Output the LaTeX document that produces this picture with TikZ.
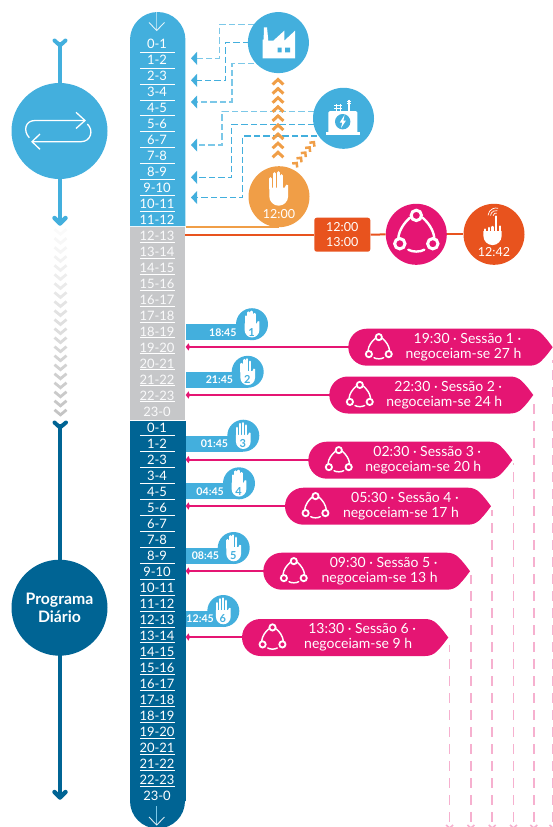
\documentclass[tikz,border=0pt]{standalone}
\usepackage{fontspec}
\setmainfont{Lato}
\usetikzlibrary{arrows.meta,calc}
\definecolor{sky}{HTML}{43AFDD}
\definecolor{skyl}{HTML}{7CC8E8}
\definecolor{navy}{HTML}{006494}
\definecolor{greyb}{HTML}{C6C7C9}
\definecolor{mag}{HTML}{E51573}
\definecolor{magl}{HTML}{F6B0CF}
\definecolor{orng}{HTML}{F09E47}
\definecolor{rust}{HTML}{E8531E}
\tikzset{
  hourtxt/.style={text=white,font=\fontsize{13}{13}\selectfont,inner sep=0pt,anchor=center},
  hourline/.style={draw=white,line width=0.8pt},
  bluedash/.style={draw=sky,line width=1.1pt,dash pattern=on 6.5pt off 3pt},
  bluetip/.style={fill=sky,draw=none},
  magdash/.style={draw=magl,line width=1.5pt,dash pattern=on 10pt off 7pt},
  magline/.style={draw=mag,line width=2pt},
  sessbox/.style={fill=mag,draw=none},
  sesstxt/.style={text=white,font=\fontsize{14}{14.8}\selectfont,align=center,inner sep=0pt},
  tagtxt/.style={text=white,font=\fontsize{10.6}{10}\bfseries\selectfont,inner sep=0pt},
  bigcirc/.style={circle,minimum size=#1,inner sep=0pt,draw=none},
  vline/.style={line width=4pt},
}
\newcommand{\chevup}[3]{\draw[#3,line width=3pt,line join=miter] (#1-5.4,#2+3) -- (#1,#2-2) -- (#1+5.4,#2+3);}
% network icon: centre x, y, scale s, colour
\newcommand{\netico}[4]{%
 \begin{scope}[shift={(#1,#2)},scale=#3]
  \draw[#4,line width=#3*2.4pt,line cap=round] (-6.3,-17) .. controls (-12,-12) and (-17,-5) .. (-18,3);
  \draw[#4,line width=#3*2.4pt,line cap=round] (6.3,-17) .. controls (12,-12) and (17,-5) .. (18,3);
  \draw[#4,line width=#3*2.4pt,line cap=round] (-8,15) .. controls (-4,17.5) and (4,17.5) .. (8,15);
  \draw[#4,line width=#3*3pt] (0,-19.3) circle[radius=5.2];
  \draw[#4,line width=#3*3pt] (-16.5,9) circle[radius=5.2];
  \draw[#4,line width=#3*3pt] (16.5,9) circle[radius=5.2];
 \end{scope}}
% hand icon: centre x, y, scale s
\newcommand{\handico}[3]{%
 \begin{scope}[shift={(#1,#2)},scale=#3]
  \fill[white] (-9.4,-1) -- (6,-1) -- (7.5,-4) -- (9.4,-3.5) -- (9.4,7.6) arc[start angle=0,end angle=180,radius=9.4] -- cycle;
  \draw[white,line width=#3*3pt,line cap=round] (-8,0) -- (-8,-10) (-4.3,0) -- (-4.3,-15) (-0.6,0) -- (-0.6,-16) (3.1,0) -- (3.1,-13);
 \end{scope}}
\newcommand{\sess}[6]{% left tip y time session hours
 \fill[sessbox] (#1+18.5,#3-18.5) -- (#2-23,#3-18.5) .. controls (#2-13,#3-18.5) and (#2-9,#3-11) .. (#2-4.5,#3-6) -- (#2,#3) -- (#2-4.5,#3+6) .. controls (#2-9,#3+11) and (#2-13,#3+18.5) .. (#2-23,#3+18.5) -- (#1+18.5,#3+18.5) arc[start angle=90,end angle=270,radius=18.5] -- cycle;
 \netico{#1+30.5}{#3+1.5}{0.6}{white}
 \node[sesstxt] (sess#5) at ({(#1+#2)/2+13},#3) {\hspace*{8pt}#4 · Sessão #5 ·\\negoceiam-se #6 h};
}
% tag: bar top, circle cx, time right x, time, number
\newcommand{\tagh}[5]{%
  \fill[sky] (186,#1) rectangle (#2,#1+16);
  \node[bigcirc=32pt,fill=sky] (hc#5) at (#2,#1) {};
  \node[tagtxt,anchor=east] (tt#5) at (#3,#1+8) {#4};
  \handico{#2}{#1}{0.78}
  \node[text=sky,font=\fontsize{11}{11}\bfseries\selectfont,inner sep=0] (hn#5) at (#2-0.5,#1+8) {#5};
}
\begin{document}
\begin{tikzpicture}[x=1pt,y=-1pt]
\useasboundingbox (0,0) rectangle (553,827);
% timeline column
\fill[sky] (130,226) -- (130,39.7) arc[start angle=180,end angle=360,radius=27.7] -- (185.4,226) -- cycle;
\fill[greyb] (130,226.8) rectangle (185.4,420);
\fill[navy] (130,421) -- (185.8,421) -- (185.8,801) -- (185,801) arc[start angle=0,end angle=180,radius=27.5] -- cycle;
\draw[draw=skyl!70!white,line width=0.8pt] (156.7,12) -- (156.7,30);
\draw[draw=white,line width=0.9pt,opacity=.85] (149,22.5) -- (156.7,30.5) -- (164.5,22.5);
\draw[draw=skyl,line width=0.8pt] (156.7,806) -- (156.7,825);
\draw[draw=white,line width=0.9pt,opacity=.85] (149,817) -- (156.7,825) -- (164.5,817);
% hours
\foreach \lab [count=\i from 0] in {0-1,1-2,2-3,3-4,4-5,5-6,6-7,7-8,8-9,9-10,10-11,11-12}{
  \node[hourtxt] (s\i) at (157,{44+\i*16}) {\lab};
  \ifnum\i<11 \draw[hourline] (140,{52.4+\i*15.85}) -- (175,{52.4+\i*15.85}); \fi
}
\foreach \lab [count=\i from 0] in {12-13,13-14,14-15,15-16,16-17,17-18,18-19,19-20,20-21,21-22,22-23,23-0}{
  \node[hourtxt,text=white!92!greyb] (g\i) at (157,{236+\i*16}) {\lab};
  \ifnum\i<11 \draw[hourline] (140,{242.4+\i*15.9}) -- (175,{242.4+\i*15.9}); \fi
}
\foreach \lab [count=\i from 0] in {0-1,1-2,2-3,3-4,4-5,5-6,6-7,7-8,8-9,9-10,10-11,11-12,12-13,13-14,14-15,15-16,16-17,17-18,18-19,19-20,20-21,21-22,22-23,23-0}{
  \node[hourtxt] (n\i) at (157,{428+\i*16}) {\lab};
  \ifnum\i<23 \draw[hourline] (140,{435.5+\i*15.95}) -- (175,{435.5+\i*15.95}); \fi
}
% left column
\draw[sky,vline] (60,42) -- (60,222);
\draw[sky,line width=4pt,line cap=round] (54.5,40.5) -- (60,45.5) -- (65.5,40.5);
\draw[sky,line width=4.5pt,line cap=round,line join=round] (54.5,218) -- (60,223.5) -- (65.5,218);
\node[bigcirc=96pt,fill=sky] (cyc) at (59.5,131) {};
\draw[white,line width=1.3pt] (85,120.5) -- (35,120.5) .. controls (25,120.5) and (23,131) .. (29.3,137.7);
\draw[white,line width=1.3pt] (76,112.3) -- (85,120.5) -- (76,128.5);
\draw[white,line width=1.3pt] (32,141.7) -- (81,141.7) .. controls (91,141.7) and (94,130) .. (87.3,124);
\draw[white,line width=1.3pt] (40,134) -- (32,141.7) -- (40,149.3);
% grey chevrons
\foreach \i in {0,...,20}{
  \pgfmathsetmacro{\shade}{min(23,2+\i*1.05)}
  \draw[black!\shade,line width=2.8pt] (54.5,{229.2+\i*9.03}) -- (60.5,{234.2+\i*9.03}) -- (66.5,{229.2+\i*9.03});
}
% navy line
\draw[navy,vline] (60,424) -- (60,796);
\draw[navy,line width=4pt,line cap=round] (54.5,422.5) -- (60,427.5) -- (66,422.5);
\draw[navy,line width=4.5pt,line cap=round,line join=round] (54.5,792) -- (60,797.5) -- (65.5,792);
\node[bigcirc=96pt,fill=navy,text=white,font=\fontsize{15.8}{18.7}\bfseries\selectfont,align=center] (prog) at (59.5,607.7) {Programa\\Diário};
% blue dashed connectors
\coordinate (ta1) at (191,58.3); \coordinate (ta2) at (191,80.3); \coordinate (ta3) at (191,102);
\coordinate (ta4) at (191,145); \coordinate (ta5) at (191,177.3); \coordinate (ta6) at (191,197.5);
\coordinate (fa1) at (254,24.3); \coordinate (fa2) at (249,42.3); \coordinate (fa3) at (254,63.3);
\coordinate (sa1) at (314,111.3); \coordinate (sa2) at (314,124.3); \coordinate (sa3) at (317,136);
\draw[bluedash,draw=skyl] (fa1) -- (219.3,24.3) -- (219.3,58.3) -- (197,58.3);
\draw[bluedash] (fa2) -- (225.3,42.3) -- (225.3,80.3) -- (197,80.3);
\draw[bluedash,draw=skyl] (fa3) -- (232,63.3) -- (232,102) -- (197,102);
\draw[bluedash,draw=skyl] (sa1) -- (222,111.3) -- (222,145) -- (197,145);
\draw[bluedash] (sa2) -- (231.7,124.3) -- (231.7,177.3) -- (197,177.3);
\draw[bluedash] (sa3) -- (242.7,136) -- (242.7,197.5) -- (197,197.5);
\foreach \c in {ta1,ta2,ta3,ta4,ta5,ta6}{ \fill[bluetip] (\c) ++(6,-6.5) -- ++(-6,6.5) -- ++(6,6.5) -- cycle; }
% factory circle
\node[bigcirc=61pt,fill=sky] (fact) at (278.4,42.6) {};
\fill[white] (262.7,58.3) -- (262.7,39.5) -- (263.6,39.5) -- (264,27.3) -- (267,27.3) -- (268.2,39.5) -- (268.2,40.7) -- (273.3,40.7) -- (284.3,30.7) -- (284.3,40.7) -- (295,30.7) -- (295,58.3) -- cycle;
\fill[sky] (277.7,47.7) rectangle (281.7,52.3) (285,47.7) rectangle (290,52.3);
% substation circle
\node[bigcirc=61pt,fill=sky] (subst) at (343.5,118.3) {};
\fill[white,rounded corners=1.5pt] (328.3,111) rectangle (357.3,134);
\fill[white] (326,132.3) rectangle (359.5,135);
\fill[sky] (342.7,121.7) circle[radius=7.7];
\fill[white] (344.5,115) -- (339.8,122.5) -- (342.3,122.5) -- (341,128) -- (346,120.5) -- (343.4,120.5) -- cycle;
\foreach \cx/\tp/\lw in {336/104/0.8,340.2/104/0.8,349/99.5/1.6}{
  \draw[white,line width=\lw pt] (\cx,\tp) -- (\cx,111);
  \draw[white,line width=0.9pt] (\cx-2,{\tp+1.5}) -- (\cx+2,{\tp+1.5}) (\cx-2,{\tp+4}) -- (\cx+2,{\tp+4});
}
% orange circle
\node[bigcirc=61pt,fill=orng] (stop) at (279,196.7) {};
\handico{278.7}{188.7}{1}
\node[text=white,font=\fontsize{12.5}{12}\selectfont,inner sep=0] (stoptime) at (279,214.3) {12:00};
% orange chevrons
\foreach \i in {0,...,8}{ \chevup{278}{81.5+\i*9.1}{orng} }
\foreach \i in {0,...,4}{
  \draw[orng,line width=2.5pt] ({296.7+\i*4.3-4.5},{163+\i*(-5.2)+0.5}) -- ({296.7+\i*4.3},{163+\i*(-5.2)}) -- ({296.7+\i*4.3+0.5},{163+\i*(-5.2)+4.5});
}
% orange / red lines
\coordinate (o1) at (185.5,0);
\coordinate (o2) at (185,0);
\node[fill=rust,rounded corners=2.5pt,text=white,font=\fontsize{12.5}{15}\selectfont,align=center,inner sep=0pt,minimum width=56pt,minimum height=34pt] (tb) at (342.3,234.7) {12:00\\13:00};
\node[bigcirc=61pt,fill=mag] (net) at (416.3,234.3) {};
\node[bigcirc=61pt,fill=rust] (hand2) at (494,234.3) {};
\draw[orng,line width=2pt] (o1 |- stop.south) -- (stop.south);
\draw[rust,line width=2pt] (o2 |- tb) -- (tb);
\draw[rust,line width=2pt] (tb) -- (net);
\draw[rust,line width=2pt] (net) -- (hand2);
\netico{416.3}{234.7}{1}{white}
% pressing hand
\fill[white] (483.4,231) -- (501.6,231) -- (501.6,236) arc[start angle=0,end angle=180,radius=9.1] -- cycle;
\draw[white,line width=2.4pt,line cap=round] (485,232) -- (485,229.5) (489,232) -- (489,228) (492.6,232) -- (492.6,227) (496,232) -- (496,216.5) (499.8,232) -- (499.8,226.5);
\foreach \r in {3,5.5,8}{ \draw[white,line width=0.7pt] (496,216) ++(185:\r) arc[start angle=185,end angle=285,radius=\r]; }
\node[text=white,font=\fontsize{12.5}{12}\selectfont,inner sep=0] (presstime) at (494,252.3) {12:42};
% magenta lines behind boxes
\foreach \yy/\rr/\nm in {346.9/360/a,395/340/b,459.6/320/c,506/296/d,571/275/e,637/255/f}{
  \coordinate (st\nm) at (\rr,\yy);
  \coordinate (en\nm) at (188,\yy);
  \draw[magline] (st\nm) -- (en\nm);
  \fill[mag] (185.7,\yy) -- (188.5,\yy-3.6) -- (190,\yy) -- (188.5,\yy+3.6) -- cycle;
}
% tags
\tagh{324.2}{252}{236.7}{18:45}{1}
\tagh{371.8}{247.7}{233.3}{21:45}{2}
\tagh{435.7}{243.3}{228.3}{01:45}{3}
\tagh{483.3}{239}{224}{04:45}{4}
\tagh{548}{233.7}{219.3}{08:45}{5}
\tagh{611}{223.3}{214}{12:45}{6}
% dashed pink drops
\foreach \xx/\yy in {553/360,533.8/403,513.5/463,492.2/510,470.9/575,449.6/645}{
  \draw[magdash] (\xx,821.7) -- (\xx,\yy);
  \draw[magl,line width=1.6pt] (\xx-3.5,825) -- (\xx,828) -- (\xx+3.5,825);
}
% session boxes
\sess{348.3}{552.7}{347.2}{19:30}{1}{27}
\sess{329.3}{533.3}{395}{22:30}{2}{24}
\sess{308.3}{512.3}{460.2}{02:30}{3}{20}
\sess{285}{491}{506.2}{05:30}{4}{17}
\sess{263.3}{470}{571.2}{09:30}{5}{13}
\sess{242}{448.3}{637.5}{13:30}{6}{9}
\end{tikzpicture}
\end{document}
